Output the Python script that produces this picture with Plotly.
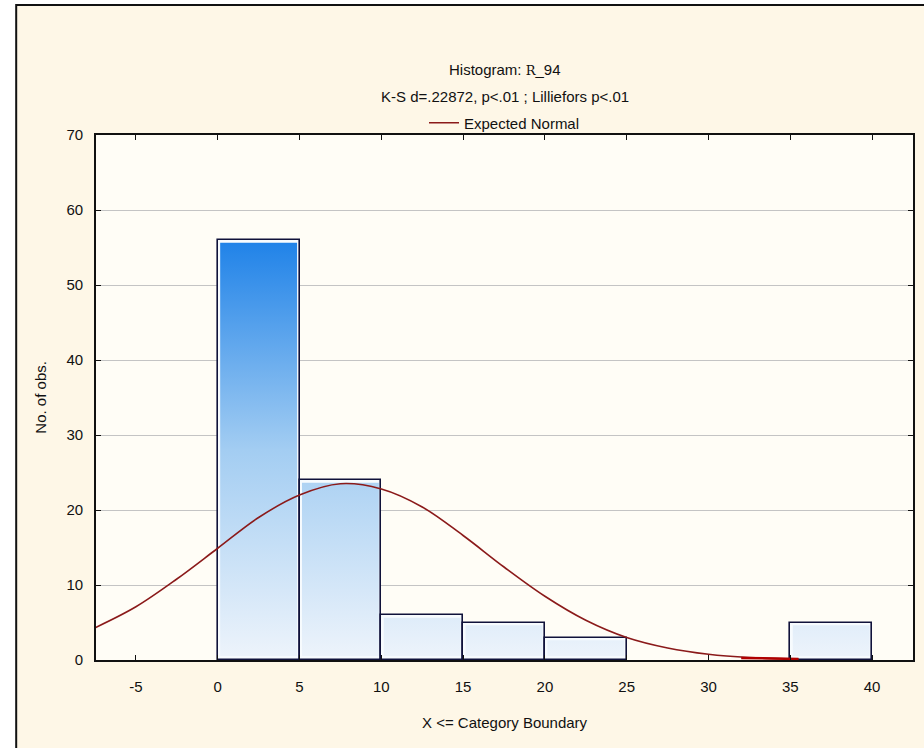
import plotly.graph_objects as go

# ---- data ----
bin_left = [0, 5, 10, 15, 20, 25, 30, 35]
bin_right = [5, 10, 15, 20, 25, 30, 35, 40]
counts = [56, 24, 6, 5, 3, 0, 0, 5]

curve_x = [-7.5, -5, -2.5, 0, 2.5, 5, 7.5, 10, 12.5, 15, 17.5, 20, 22.5, 25, 27.5, 30, 32.5, 35, 35.5]
curve_y = [4.3, 7.1, 10.8, 14.9, 19.0, 22.0, 23.5, 22.8, 20.4, 16.6, 12.4, 8.5, 5.3, 3.0, 1.6, 0.76, 0.33, 0.15, 0.13]
tail_x = [32.0, 35.5]
tail_y = [0.28, 0.13]

x_ticks = [-5, 0, 5, 10, 15, 20, 25, 30, 35, 40]
x_tick_text = ["-5", "0", "5", "10", "15", "20", "25", "30", "35", "40"]
y_ticks = [0, 10, 20, 30, 40, 50, 60, 70]

title1 = "Histogram: <span style='font-family:DejaVu Serif;font-size:13px'>R</span>_94"
title2 = "K-S d=.22872, p<.01 ; Lilliefors p<.01"
legend_name = "Expected Normal"
x_title = "X <= Category Boundary"
y_title = "No. of obs."

# ---- style ----
FONT = "Liberation Sans, Arial, sans-serif"
FS = 15
TXT = "#111111"
OUTLINE = "#10123a"
CURVE = "#8b1a1a"
INSET_X = 0.15
INSET_TOP = 0.35
INSET_BOT = 0.55
GRAD = [[0.0, "#eef4fb"], [0.5, "#a3cdf2"], [1.0, "#1f82e8"]]

fig = go.Figure()

# bar outlines (only non-empty classes are drawn)
nz = [i for i, c in enumerate(counts) if c > 0]
fig.add_trace(go.Bar(
    x=[(bin_left[i] + bin_right[i]) / 2 for i in nz],
    y=[counts[i] for i in nz],
    width=[bin_right[i] - bin_left[i] for i in nz],
    marker=dict(color="#f7fbfe", line=dict(color=OUTLINE, width=1.6)),
    showlegend=False, hoverinfo="skip",
))

# gradient inner fills
for l, r, c in zip(bin_left, bin_right, counts):
    if c <= 0:
        continue
    xs = [l + INSET_X, r - INSET_X, r - INSET_X, l + INSET_X, l + INSET_X]
    ys = [INSET_BOT, INSET_BOT, c - INSET_TOP, c - INSET_TOP, INSET_BOT]
    fig.add_trace(go.Scatter(
        x=xs, y=ys, mode="lines", fill="toself",
        line=dict(width=0, color="rgba(0,0,0,0)"),
        fillgradient=dict(type="vertical", colorscale=GRAD, start=0, stop=max(counts)),
        showlegend=False, hoverinfo="skip",
    ))

# expected normal curve
fig.add_trace(go.Scatter(
    x=curve_x, y=curve_y, mode="lines", name=legend_name,
    line=dict(color=CURVE, width=1.6, shape="spline"),
))
fig.add_trace(go.Scatter(
    x=tail_x, y=tail_y, mode="lines", showlegend=False,
    line=dict(color="#b00000", width=2.5), hoverinfo="skip",
))

L, R, T, B = 96, 9, 135, 88
W, H = 924, 748
pw = W - L - R
ph = H - T - B

def px(xp):
    return (xp - L) / pw

def py(yp):
    return (H - B - yp) / ph

fig.update_layout(
    width=W, height=H,
    margin=dict(l=L, r=R, t=T, b=B),
    paper_bgcolor="white",
    plot_bgcolor="rgba(0,0,0,0)",
    font=dict(family=FONT, size=FS, color=TXT),
    bargap=0,
    shapes=[
        dict(type="rect", xref="paper", yref="paper", layer="below",
             x0=px(16), x1=px(960), y0=py(800), y1=py(5),
             fillcolor="#fef7e7", line=dict(color="#111111", width=2)),
        dict(type="rect", xref="paper", yref="paper", layer="below",
             x0=0, x1=1, y0=0, y1=1,
             fillcolor="#fffdf6", line=dict(width=0)),
    ],
    annotations=[
        dict(text=title1, xref="paper", yref="paper", x=0.5, y=py(69),
             xanchor="center", yanchor="middle", showarrow=False, font=dict(size=FS)),
        dict(text=title2, xref="paper", yref="paper", x=0.5, y=py(97),
             xanchor="center", yanchor="middle", showarrow=False, font=dict(size=FS)),
        dict(text=x_title, xref="paper", yref="paper", x=0.5, y=py(722),
             xanchor="center", yanchor="middle", showarrow=False, font=dict(size=FS)),
        dict(text=y_title, xref="paper", yref="paper", x=px(40), y=0.5, textangle=-90,
             xanchor="center", yanchor="middle", showarrow=False, font=dict(size=FS)),
    ],
    legend=dict(orientation="h", x=0.5, xanchor="center", y=py(123), yanchor="middle",
                bgcolor="rgba(0,0,0,0)", font=dict(size=FS)),
)

fig.update_xaxes(
    range=[-7.44, 42.5], tickvals=x_ticks, ticktext=x_tick_text,
    ticks="inside", ticklen=5, tickcolor="#111",
    showline=True, mirror="ticks", linecolor="#111", linewidth=1.6,
    showgrid=False, zeroline=False, ticklabelstandoff=12,
)
fig.update_yaxes(
    range=[0, 70], tickvals=y_ticks, ticks="inside", ticklen=5, tickcolor="#111",
    showline=True, mirror="ticks", linecolor="#111", linewidth=1.6,
    showgrid=True, gridcolor="#c4c4c4", gridwidth=1.2, zeroline=False,
    ticklabelstandoff=8,
)

fig.write_html("out.html")
